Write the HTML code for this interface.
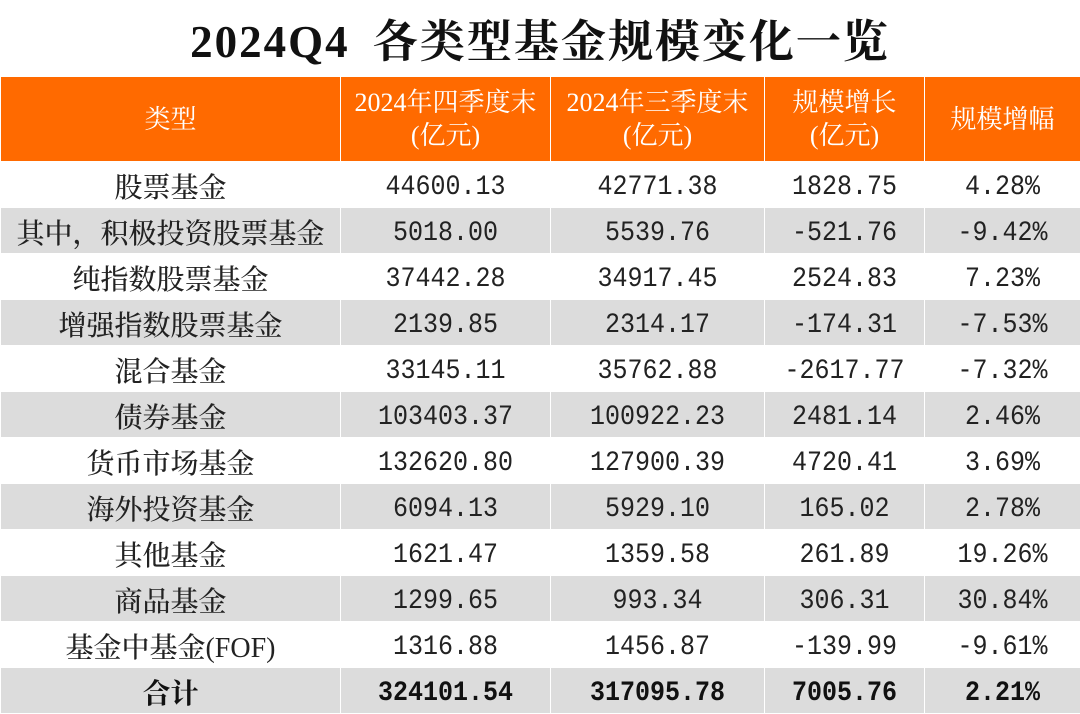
<!DOCTYPE html>
<html><head><meta charset="utf-8"><style>
body{margin:0;width:1080px;height:703px;background:#fff;overflow:hidden;font-family:"Liberation Serif","Noto Serif CJK SC",serif;}
h1{position:absolute;top:0;left:0;width:1080px;height:76px;margin:0;text-align:center;line-height:84px;font-size:45px;font-weight:bold;color:#111;font-family:"Liberation Serif","Noto Serif CJK SC",serif;letter-spacing:2px;word-spacing:10px}
table{position:absolute;top:76px;left:0;width:1080px;border-collapse:collapse;table-layout:fixed}
td,th{border:1px solid #fff;text-align:center;padding:0;color:#222;white-space:nowrap;overflow:hidden}
th{background:#ff6a00;color:#fff;font-weight:normal;font-size:26px;line-height:33px;height:84px;font-family:"Liberation Serif","Noto Serif CJK SC",serif}
td{height:42px;padding-top:3px;font-size:25px;font-family:"Liberation Mono","Noto Serif CJK SC",monospace}
td span{display:inline-block;transform:scaleY(1.12)}
td.n{font-family:"Liberation Serif","Noto Serif CJK SC",serif;font-size:28px;font-weight:500}
tr.g td{background:#dcdcdc}
tr.t td{font-weight:bold;color:#111}
</style></head><body>
<h1>2024Q4 各类型基金规模变化一览</h1>
<table>
<colgroup><col style="width:340px"><col style="width:210px"><col style="width:214px"><col style="width:160px"><col style="width:156px"></colgroup>
<tr><th>类型</th><th>2024年四季度末<br>(亿元)</th><th>2024年三季度末<br>(亿元)</th><th>规模增长<br>(亿元)</th><th>规模增幅</th></tr>
<tr><td class="n">股票基金</td><td><span>44600.13</span></td><td><span>42771.38</span></td><td><span>1828.75</span></td><td><span>4.28%</span></td></tr>
<tr class="g"><td class="n">其中，积极投资股票基金</td><td><span>5018.00</span></td><td><span>5539.76</span></td><td><span>-521.76</span></td><td><span>-9.42%</span></td></tr>
<tr><td class="n">纯指数股票基金</td><td><span>37442.28</span></td><td><span>34917.45</span></td><td><span>2524.83</span></td><td><span>7.23%</span></td></tr>
<tr class="g"><td class="n">增强指数股票基金</td><td><span>2139.85</span></td><td><span>2314.17</span></td><td><span>-174.31</span></td><td><span>-7.53%</span></td></tr>
<tr><td class="n">混合基金</td><td><span>33145.11</span></td><td><span>35762.88</span></td><td><span>-2617.77</span></td><td><span>-7.32%</span></td></tr>
<tr class="g"><td class="n">债券基金</td><td><span>103403.37</span></td><td><span>100922.23</span></td><td><span>2481.14</span></td><td><span>2.46%</span></td></tr>
<tr><td class="n">货币市场基金</td><td><span>132620.80</span></td><td><span>127900.39</span></td><td><span>4720.41</span></td><td><span>3.69%</span></td></tr>
<tr class="g"><td class="n">海外投资基金</td><td><span>6094.13</span></td><td><span>5929.10</span></td><td><span>165.02</span></td><td><span>2.78%</span></td></tr>
<tr><td class="n">其他基金</td><td><span>1621.47</span></td><td><span>1359.58</span></td><td><span>261.89</span></td><td><span>19.26%</span></td></tr>
<tr class="g"><td class="n">商品基金</td><td><span>1299.65</span></td><td><span>993.34</span></td><td><span>306.31</span></td><td><span>30.84%</span></td></tr>
<tr><td class="n">基金中基金(FOF)</td><td><span>1316.88</span></td><td><span>1456.87</span></td><td><span>-139.99</span></td><td><span>-9.61%</span></td></tr>
<tr class="g t"><td class="n">合计</td><td><span>324101.54</span></td><td><span>317095.78</span></td><td><span>7005.76</span></td><td><span>2.21%</span></td></tr>
</table>
</body></html>
